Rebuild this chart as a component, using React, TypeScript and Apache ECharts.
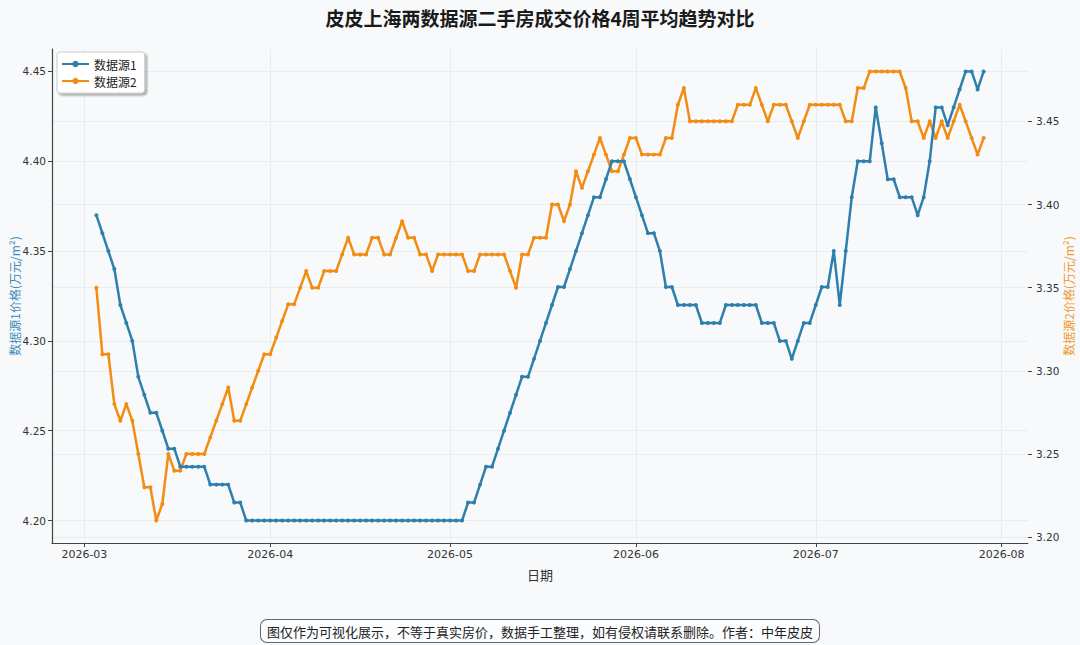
import React, { useEffect, useRef } from "react";
import * as echarts from "echarts";

const TITLE = "皮皮上海两数据源二手房成交价格4周平均趋势对比";
const FOOTNOTE = "图仅作为可视化展示，不等于真实房价，数据手工整理，如有侵权请联系删除。作者：中年皮皮";
const SERIES_NAMES = ["数据源1", "数据源2"];
const X_NAME = "日期";
const Y1_NAME = "数据源1价格(万元/m²)";
const Y2_NAME = "数据源2价格(万元/m²)";

// first date of daily series
const START_DATE = "2026-03-03";

// 数据源1 (left axis)
const source1: number[] = [
  4.37, 4.36, 4.35, 4.34, 4.32, 4.31, 4.30, 4.28, 4.27, 4.26,
  4.26, 4.25, 4.24, 4.24, 4.23, 4.23, 4.23, 4.23, 4.23, 4.22,
  4.22, 4.22, 4.22, 4.21, 4.21, 4.20, 4.20, 4.20, 4.20, 4.20,
  4.20, 4.20, 4.20, 4.20, 4.20, 4.20, 4.20, 4.20, 4.20, 4.20,
  4.20, 4.20, 4.20, 4.20, 4.20, 4.20, 4.20, 4.20, 4.20, 4.20,
  4.20, 4.20, 4.20, 4.20, 4.20, 4.20, 4.20, 4.20, 4.20, 4.20,
  4.20, 4.20, 4.21, 4.21, 4.22, 4.23, 4.23, 4.24, 4.25, 4.26,
  4.27, 4.28, 4.28, 4.29, 4.30, 4.31, 4.32, 4.33, 4.33, 4.34,
  4.35, 4.36, 4.37, 4.38, 4.38, 4.39, 4.40, 4.40, 4.40, 4.39,
  4.38, 4.37, 4.36, 4.36, 4.35, 4.33, 4.33, 4.32, 4.32, 4.32,
  4.32, 4.31, 4.31, 4.31, 4.31, 4.32, 4.32, 4.32, 4.32, 4.32,
  4.32, 4.31, 4.31, 4.31, 4.30, 4.30, 4.29, 4.30, 4.31, 4.31,
  4.32, 4.33, 4.33, 4.35, 4.32, 4.35, 4.38, 4.40, 4.40, 4.40,
  4.43, 4.41, 4.39, 4.39, 4.38, 4.38, 4.38, 4.37, 4.38, 4.40,
  4.43, 4.43, 4.42, 4.43, 4.44, 4.45, 4.45, 4.44, 4.45,
];

// 数据源2 (right axis)
const source2: number[] = [
  3.35, 3.31, 3.31, 3.28, 3.27, 3.28, 3.27, 3.25, 3.23, 3.23,
  3.21, 3.22, 3.25, 3.24, 3.24, 3.25, 3.25, 3.25, 3.25, 3.26,
  3.27, 3.28, 3.29, 3.27, 3.27, 3.28, 3.29, 3.30, 3.31, 3.31,
  3.32, 3.33, 3.34, 3.34, 3.35, 3.36, 3.35, 3.35, 3.36, 3.36,
  3.36, 3.37, 3.38, 3.37, 3.37, 3.37, 3.38, 3.38, 3.37, 3.37,
  3.38, 3.39, 3.38, 3.38, 3.37, 3.37, 3.36, 3.37, 3.37, 3.37,
  3.37, 3.37, 3.36, 3.36, 3.37, 3.37, 3.37, 3.37, 3.37, 3.36,
  3.35, 3.37, 3.37, 3.38, 3.38, 3.38, 3.40, 3.40, 3.39, 3.40,
  3.42, 3.41, 3.42, 3.43, 3.44, 3.43, 3.42, 3.42, 3.43, 3.44,
  3.44, 3.43, 3.43, 3.43, 3.43, 3.44, 3.44, 3.46, 3.47, 3.45,
  3.45, 3.45, 3.45, 3.45, 3.45, 3.45, 3.45, 3.46, 3.46, 3.46,
  3.47, 3.46, 3.45, 3.46, 3.46, 3.46, 3.45, 3.44, 3.45, 3.46,
  3.46, 3.46, 3.46, 3.46, 3.46, 3.45, 3.45, 3.47, 3.47, 3.48,
  3.48, 3.48, 3.48, 3.48, 3.48, 3.47, 3.45, 3.45, 3.44, 3.45,
  3.44, 3.45, 3.44, 3.45, 3.46, 3.45, 3.44, 3.43, 3.44,
];

const X_TICKS = ["2026-03-01", "2026-04-01", "2026-05-01", "2026-06-01", "2026-07-01", "2026-08-01"];
const Y1_TICKS = [4.2, 4.25, 4.3, 4.35, 4.4, 4.45];
const Y2_TICKS = [3.2, 3.25, 3.3, 3.35, 3.4, 3.45];

const BLUE = "#2E7FAE";
const ORANGE = "#F28C12";
const BG = "#f7f9fa";
const DAY = 24 * 3600 * 1000;

function padRange(vals: number[], frac = 0.05): [number, number] {
  const lo = Math.min(...vals);
  const hi = Math.max(...vals);
  const m = (hi - lo) * frac;
  return [lo - m, hi + m];
}

export default function App() {
  const ref = useRef<HTMLDivElement>(null);

  useEffect(() => {
    if (!ref.current) return;
    const chart = echarts.init(ref.current, undefined, { renderer: "svg" });
    const t0 = Date.parse(START_DATE);
    const times = source1.map((_, i) => t0 + i * DAY);
    const [xMin, xMax] = padRange(times);
    const [y1Min, y1Max] = padRange(source1);
    const [y2Min, y2Max] = padRange(source2);
    const xTicks = X_TICKS.map((s) => Date.parse(s));
    const fmtMonth = (v: number) => {
      const d = new Date(v);
      return `${d.getUTCFullYear()}-${String(d.getUTCMonth() + 1).padStart(2, "0")}`;
    };
    const cjk = "'DejaVu Sans', 'Noto Sans CJK SC', sans-serif";
    const gridLine = { show: true, lineStyle: { color: "#e6eaed", width: 0.8 } };

    chart.setOption({
      animation: false,
      backgroundColor: BG,
      textStyle: { fontFamily: cjk },
      title: {
        text: TITLE,
        left: "center",
        top: 3,
        textStyle: { fontSize: 19, fontWeight: "bold", color: "#1a1a1a", fontFamily: "'Noto Sans CJK SC', sans-serif" },
      },
      grid: { left: 52, right: 52, top: 49, bottom: 102, containLabel: false, outerBoundsMode: "none" },
      legend: {
        left: 57,
        top: 52,
        orient: "vertical",
        itemWidth: 27,
        itemHeight: 8,
        itemGap: 5,
        padding: [6, 8, 6, 4],
        backgroundColor: "#ffffff",
        borderColor: "#cccccc",
        borderWidth: 1,
        borderRadius: 3,
        shadowColor: "rgba(0,0,0,0.35)",
        shadowBlur: 2,
        shadowOffsetX: 2,
        shadowOffsetY: 2,
        textStyle: { fontSize: 12, color: "#222", fontFamily: "'Noto Sans CJK SC', sans-serif" },
        data: SERIES_NAMES,
      },
      xAxis: {
        type: "value",
        min: xMin,
        max: xMax,
        name: X_NAME,
        nameLocation: "middle",
        nameGap: 25,
        nameTextStyle: { fontSize: 13, color: "#333", fontFamily: "'Noto Sans CJK SC', sans-serif" },
        axisLine: { show: true, lineStyle: { color: "#444", width: 1.2 } },
        axisTick: { show: true, length: 4, lineStyle: { color: "#444" }, customValues: xTicks },
        axisLabel: {
          customValues: xTicks,
          formatter: (v: number) => fmtMonth(v),
          fontSize: 11,
          color: "#333",
          margin: 6,
        },
        splitLine: gridLine,
      },
      yAxis: [
        {
          type: "value",
          position: "left",
          min: y1Min,
          max: y1Max,
          name: Y1_NAME,
          nameLocation: "middle",
          nameRotate: 90,
          nameGap: 32,
          nameMoveOverlap: false,
          nameTextStyle: { fontSize: 12, color: "#3f8cba", fontFamily: "'Noto Sans CJK SC', sans-serif" },
          axisLine: { show: true, lineStyle: { color: "#444", width: 1.2 } },
          axisTick: { show: true, length: 4, lineStyle: { color: "#444" }, customValues: Y1_TICKS },
          axisLabel: {
            customValues: Y1_TICKS,
            formatter: (v: number) => v.toFixed(2),
            fontSize: 10.5,
            color: "#333",
            margin: 6,
          },
          splitLine: gridLine,
        },
        {
          type: "value",
          position: "right",
          min: y2Min,
          max: y2Max,
          name: Y2_NAME,
          nameLocation: "middle",
          nameRotate: 90,
          nameGap: 34,
          nameMoveOverlap: false,
          nameTextStyle: { fontSize: 12, color: "#f09a30", fontFamily: "'Noto Sans CJK SC', sans-serif" },
          axisLine: { show: false },
          axisTick: { show: true, length: 4, lineStyle: { color: "#444" }, customValues: Y2_TICKS },
          axisLabel: {
            customValues: Y2_TICKS,
            formatter: (v: number) => v.toFixed(2),
            fontSize: 10.5,
            color: "#333",
            margin: 8,
          },
          splitLine: gridLine,
        },
      ],
      series: [
        {
          name: SERIES_NAMES[0],
          type: "line",
          yAxisIndex: 0,
          data: times.map((t, i) => [t, source1[i]]),
          symbol: "circle",
          symbolSize: 4,
          showAllSymbol: true,
          lineStyle: { color: BLUE, width: 2.5 },
          itemStyle: { color: BLUE },
          emphasis: { disabled: true },
          z: 3,
        },
        {
          name: SERIES_NAMES[1],
          type: "line",
          yAxisIndex: 1,
          data: times.map((t, i) => [t, source2[i]]),
          symbol: "circle",
          symbolSize: 4,
          showAllSymbol: true,
          lineStyle: { color: ORANGE, width: 2.5 },
          itemStyle: { color: ORANGE },
          emphasis: { disabled: true },
          z: 2,
        },
      ],
      graphic: [
        {
          type: "text",
          x: 540,
          y: 631,
          style: {
            text: FOOTNOTE,
            align: "center",
            verticalAlign: "middle",
            fill: "#222",
            font: "13px 'Noto Sans CJK SC', sans-serif",
            backgroundColor: "#fbfcfd",
            borderColor: "#666",
            borderWidth: 1,
            borderRadius: 6,
            padding: [5, 6, 4, 6],
          },
        },
      ],
    });
    return () => chart.dispose();
  }, []);

  return (
    <div
      ref={ref}
      style={{ position: "fixed", left: 0, top: 0, width: 1080, height: 645, background: BG }}
    />
  );
}
